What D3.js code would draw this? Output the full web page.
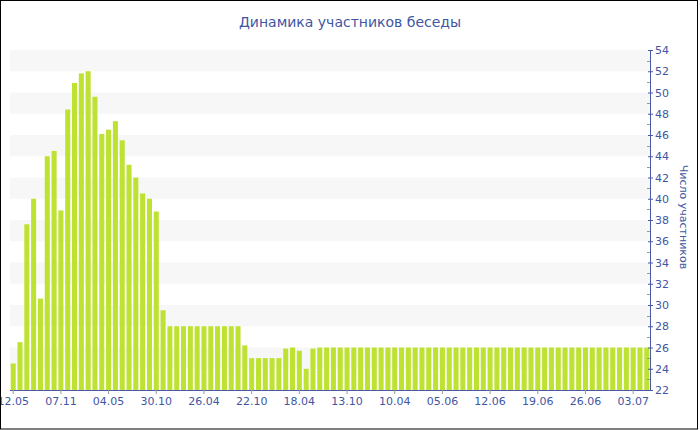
<!DOCTYPE html>
<html><head><meta charset="utf-8">
<script src="https://cdn.jsdelivr.net/npm/d3@7/dist/d3.min.js"></script>
<style>
html,body{margin:0;padding:0;background:#fff;}
svg{display:block;}
</style></head>
<body>
<script>
// ---- data ----
const values = [
  24.5, 26.5, 37.6, 40, 30.6, 44, 44.5, 38.9, 48.4, 50.9,
  51.8, 52, 49.6, 46.1, 46.5, 47.3, 45.5, 43.2, 42, 40.5,
  40, 38.8, 29.5,
  28, 28, 28, 28, 28, 28, 28, 28, 28, 28, 28,
  26.2, 25, 25, 25, 25, 25, 25.9, 26, 25.7, 24, 25.9,
  26, 26, 26, 26, 26, 26, 26, 26, 26, 26,
  26, 26, 26, 26, 26, 26, 26, 26, 26, 26,
  26, 26, 26, 26, 26, 26, 26, 26, 26, 26,
  26, 26, 26, 26, 26, 26, 26, 26, 26, 26,
  26, 26, 26, 26, 26, 26, 26, 26, 26
];
const tickLabels = ["12.05","07.11","04.05","30.10","26.04","22.10","18.04","13.10","10.04","05.06","12.06","19.06","26.06","03.07"];
const tickEvery = 7;
const yTicks = [22,24,26,28,30,32,34,36,38,40,42,44,46,48,50,52,54];
const title = "Динамика участников беседы";
const yTitle = "Число участников";

// ---- layout ----
const W = 700, H = 430;
const mLeft = 10, mRight = 650, mTop = 50, mBottom = 390;
const textColor = "#3f56a2", axisColor = "#4a5aa8", barColor = "#bde232";
const font = "'DejaVu Sans', Verdana, sans-serif";

const svg = d3.select("body").append("svg").attr("width", W).attr("height", H);

const x = d3.scaleBand().domain(d3.range(values.length)).range([mLeft, mRight]).paddingInner(0.26).paddingOuter(0.1);
const y = d3.scaleLinear().domain([22, 54]).range([mBottom, mTop]);

// stripes
svg.append("g").selectAll("rect").data(d3.range(24, 54, 4)).join("rect")
  .attr("x", mLeft).attr("width", mRight - mLeft)
  .attr("y", d => y(d + 2)).attr("height", d => y(d) - y(d + 2))
  .attr("fill", "#f7f7f7");

// bars
svg.append("g").selectAll("rect").data(values).join("rect")
  .attr("x", (d, i) => x(i)).attr("width", x.bandwidth())
  .attr("y", d => y(d)).attr("height", d => y(22) - y(d))
  .attr("fill", barColor);

// x axis
const tickIdx = tickLabels.map((_, k) => k * tickEvery);
const xAxis = d3.axisBottom(x).tickValues(tickIdx).tickFormat((d, k) => tickLabels[k]).tickSize(4).tickPadding(3);
const gx = svg.append("g").attr("transform", `translate(0,${mBottom})`).call(xAxis);
gx.select(".domain").attr("stroke", axisColor).attr("d", `M${mLeft},0.5H${mRight}`);
gx.selectAll(".tick line").attr("stroke", "#999");
gx.selectAll("text").attr("fill", textColor).style("font-family", font).style("font-size", "11px");

// y axis (right)
const minor = svg.append("g").attr("transform", `translate(${mRight},0)`);
minor.selectAll("line").data(d3.range(23, 54, 2)).join("line")
  .attr("x1", -3).attr("x2", 0).attr("y1", d => Math.round(y(d)) + 0.5).attr("y2", d => Math.round(y(d)) + 0.5)
  .attr("stroke", "#999");
const yAxis = d3.axisRight(y).tickValues(yTicks).tickFormat(d3.format("d")).tickSizeInner(3).tickSizeOuter(0).tickPadding(2);
const gy = svg.append("g").attr("transform", `translate(${mRight},0)`).call(yAxis);
gy.select(".domain").attr("stroke", axisColor);
gy.selectAll(".tick line").attr("stroke", axisColor).attr("x1", -2);
gy.selectAll("text").attr("fill", textColor).style("font-family", font).style("font-size", "11px");

// titles
svg.append("text").attr("x", 350).attr("y", 27).attr("text-anchor", "middle")
  .attr("fill", textColor).style("font-family", font).style("font-size", "14px").text(title);
svg.append("text").attr("transform", `translate(680,${(mTop + mBottom) / 2 - 3}) rotate(90)`)
  .attr("text-anchor", "middle").attr("fill", textColor)
  .style("font-family", font).style("font-size", "11px").text(yTitle);

// border
svg.append("rect").attr("x", 0.5).attr("y", 0.5).attr("width", 697).attr("height", 428.5)
  .attr("fill", "none").attr("stroke", "#000");
</script>
</body></html>
